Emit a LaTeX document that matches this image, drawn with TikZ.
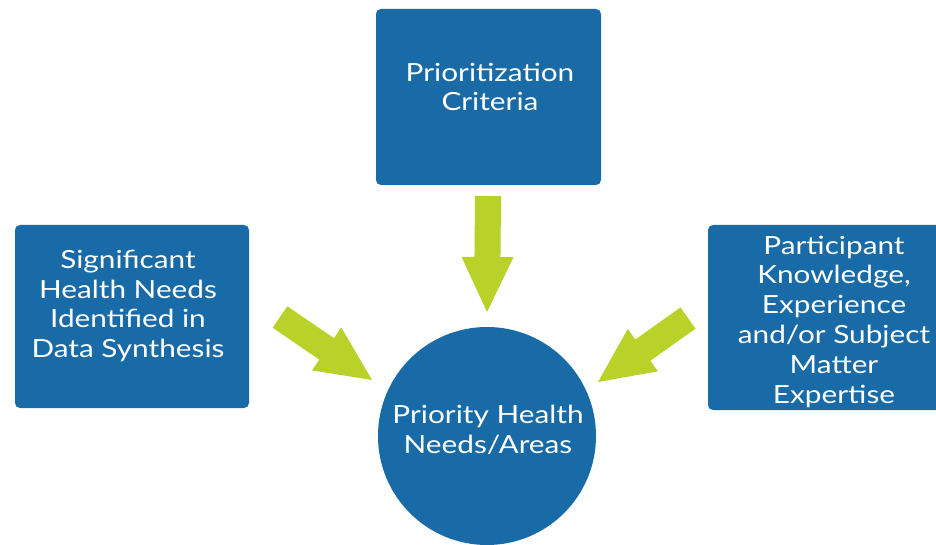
\documentclass[tikz,border=0pt]{standalone}
\usepackage{fontspec}
\setmainfont[FakeStretch=1.19]{Lato}
\usetikzlibrary{calc}
\definecolor{boxblue}{RGB}{24,107,166}
\definecolor{arrowgreen}{RGB}{184,210,42}
\tikzset{
  bluebox/.style={fill=boxblue, rounded corners=5pt, inner sep=0pt},
  boxtext/.style={text=white, align=center, font=\fontsize{25}{29.8}\selectfont, inner sep=0pt},
  arrowfill/.style={fill=arrowgreen},
}
\newcommand\greenarrow[2]{%
  \coordinate (#2-base) at ($(#2)!55pt!(#1)$);
  \fill[arrowfill] ($(#1)!13pt!90:(#2)$) -- ($(#2-base)!13pt!-90:(#1)$)
    -- ($(#2-base)!26pt!-90:(#1)$) -- (#2) -- ($(#2-base)!26pt!90:(#1)$)
    -- ($(#2-base)!13pt!90:(#1)$) -- ($(#1)!13pt!-90:(#2)$) -- cycle;
}
\begin{document}
\begin{tikzpicture}[x=1pt,y=-1pt]
  \useasboundingbox (0,0) rectangle (936,545);
  \clip (0,0) rectangle (936,545);
  \fill[white] (0,0) rectangle (936,545);
  % boxes
  \node[bluebox, minimum width=225pt, minimum height=176pt] (crit) at (488.5,97) {};
  \node[bluebox, minimum width=234pt, minimum height=183pt] (sig) at (132,316.5) {};
  \node[bluebox, minimum width=252pt, minimum height=185pt] (part) at (834,317.5) {};
  \node[fill=boxblue, circle, minimum size=218pt, inner sep=0pt] (prio) at (487,436) {};
  % labels
  \node[boxtext] (critlabel) at (490,87) {Prioritization\\Criteria};
  \node[boxtext] (siglabel) at (128,306) {Significant\\Health Needs\\Identified in\\Data Synthesis};
  \node[boxtext] (partlabel) at (834,321.5) {Participant\\Knowledge,\\Experience\\and/or Subject\\Matter\\Expertise};
  \node[boxtext] (priolabel) at (488,430) {Priority Health\\Needs/Areas};
  % arrows
  \coordinate (tS) at (488,196);
  \coordinate (tT) at (487,312);
  \coordinate (lS) at (280,317);
  \coordinate (lT) at (372,380);
  \coordinate (rS) at (688,318);
  \coordinate (rT) at (598,382);
  \greenarrow{tS}{tT}
  \greenarrow{lS}{lT}
  \greenarrow{rS}{rT}
\end{tikzpicture}
\end{document}
